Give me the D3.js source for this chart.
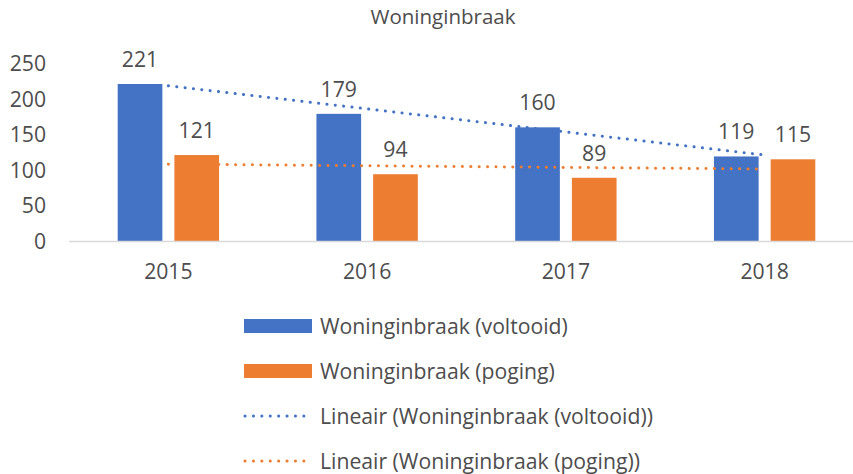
<!DOCTYPE html>
<html>
<head>
<meta charset="utf-8">
<script src="https://cdn.jsdelivr.net/npm/d3@7"></script>
<style>
  body { margin: 0; background: #fff; }
  text { font-family: "Open Sans", sans-serif; fill: #4d4d4d; }
</style>
</head>
<body>
<div id="chart"></div>
<script>
// datos
const years = ["2015", "2016", "2017", "2018"];
const voltooid = [221, 179, 160, 119];
const poging = [121, 94, 89, 115];
// extremos de las líneas de tendencia (primer y último año)
const trendVoltooid = [218.5, 121];
const trendPoging = [108.2, 101.3];
const yTicks = [0, 50, 100, 150, 200, 250];
const seriesNames = ["Woninginbraak (voltooid)", "Woninginbraak (poging)"];
const trendNames = ["Lineair (Woninginbraak (voltooid))", "Lineair (Woninginbraak (poging))"];

const blue = "#4472C4", orange = "#ED7D31";
const width = 853, height = 474;
const fontSize = 21.2;

let svg = d3.select("#chart").append("svg")
    .attr("width", width)
    .attr("height", height);

let x0 = d3.scaleBand()
    .domain(years)
    .range([69, 864])
    .paddingInner(0.49)
    .paddingOuter(0.245);

let x1 = d3.scaleBand()
    .domain([0, 1])
    .range([0, x0.bandwidth()])
    .paddingInner(0.212);

let y = d3.scaleLinear().domain([0, 250]).range([241, 63.4]);

// título
svg.append("text")
    .attr("x", 443)
    .attr("y", 24)
    .attr("text-anchor", "middle")
    .style("font-size", "20.5px")
    .text("Woninginbraak");

// eje y (solo etiquetas)
svg.append("g").selectAll("text")
    .data(yTicks)
    .enter().append("text")
    .attr("x", 46)
    .attr("y", d => y(d))
    .attr("dy", "0.36em")
    .attr("text-anchor", "end")
    .style("font-size", fontSize + "px")
    .text(d => d);

// barras
let rows = years.map((yr, i) => ({ year: yr, values: [voltooid[i], poging[i]] }));
let groups = svg.append("g").selectAll("g")
    .data(rows)
    .enter().append("g")
    .attr("transform", d => "translate(" + x0(d.year) + ",0)");

groups.selectAll("rect")
    .data(d => d.values.map((v, k) => ({ k: k, v: v })))
    .enter().append("rect")
    .attr("x", d => x1(d.k))
    .attr("y", d => y(d.v))
    .attr("width", x1.bandwidth())
    .attr("height", d => y(0) - y(d.v))
    .attr("fill", d => d.k === 0 ? blue : orange);

groups.selectAll(".lbl")
    .data(d => d.values.map((v, k) => ({ k: k, v: v })))
    .enter().append("text")
    .attr("class", "lbl")
    .attr("x", d => x1(d.k) + x1.bandwidth() / 2)
    .attr("y", d => y(d.v) - 17)
    .attr("text-anchor", "middle")
    .style("font-size", fontSize + "px")
    .text(d => d.v);

// eje x
svg.append("line")
    .attr("x1", 69).attr("x2", width)
    .attr("y1", y(0) + 0.5).attr("y2", y(0) + 0.5)
    .attr("stroke", "#d9d9d9")
    .attr("stroke-width", 1.5);

svg.append("g").selectAll("text")
    .data(years)
    .enter().append("text")
    .attr("x", d => x0(d) + x0.bandwidth() / 2)
    .attr("y", 279)
    .attr("text-anchor", "middle")
    .style("font-size", fontSize + "px")
    .text(d => d);

// líneas de tendencia
let cx = d => x0(d) + x0.bandwidth() / 2;
let trends = [
    { vals: trendVoltooid, color: blue },
    { vals: trendPoging, color: orange }
];
trends.forEach(t => {
    svg.append("line")
        .attr("x1", cx(years[0]))
        .attr("y1", y(t.vals[0]))
        .attr("x2", cx(years[years.length - 1]))
        .attr("y2", y(t.vals[1]))
        .attr("stroke", t.color)
        .attr("stroke-width", 3)
        .attr("stroke-linecap", "round")
        .attr("stroke-dasharray", "0.1 8.3");
});

// leyenda
let legend = svg.append("g");
let items = [
    { name: seriesNames[0], color: blue, type: "rect" },
    { name: seriesNames[1], color: orange, type: "rect" },
    { name: trendNames[0], color: blue, type: "line" },
    { name: trendNames[1], color: orange, type: "line" }
];
items.forEach((it, i) => {
    let cy = 326 + i * 45;
    if (it.type === "rect") {
        legend.append("rect")
            .attr("x", 244).attr("y", cy - 7)
            .attr("width", 68).attr("height", 14)
            .attr("fill", it.color);
    } else {
        legend.append("line")
            .attr("x1", 245).attr("x2", 312)
            .attr("y1", cy).attr("y2", cy)
            .attr("stroke", it.color)
            .attr("stroke-width", 3)
            .attr("stroke-linecap", "round")
            .attr("stroke-dasharray", "0.1 8.3");
    }
    legend.append("text")
        .attr("x", 320)
        .attr("y", cy)
        .attr("dy", "0.36em")
        .style("font-size", fontSize + "px")
        .text(it.name);
});
</script>
</body>
</html>
